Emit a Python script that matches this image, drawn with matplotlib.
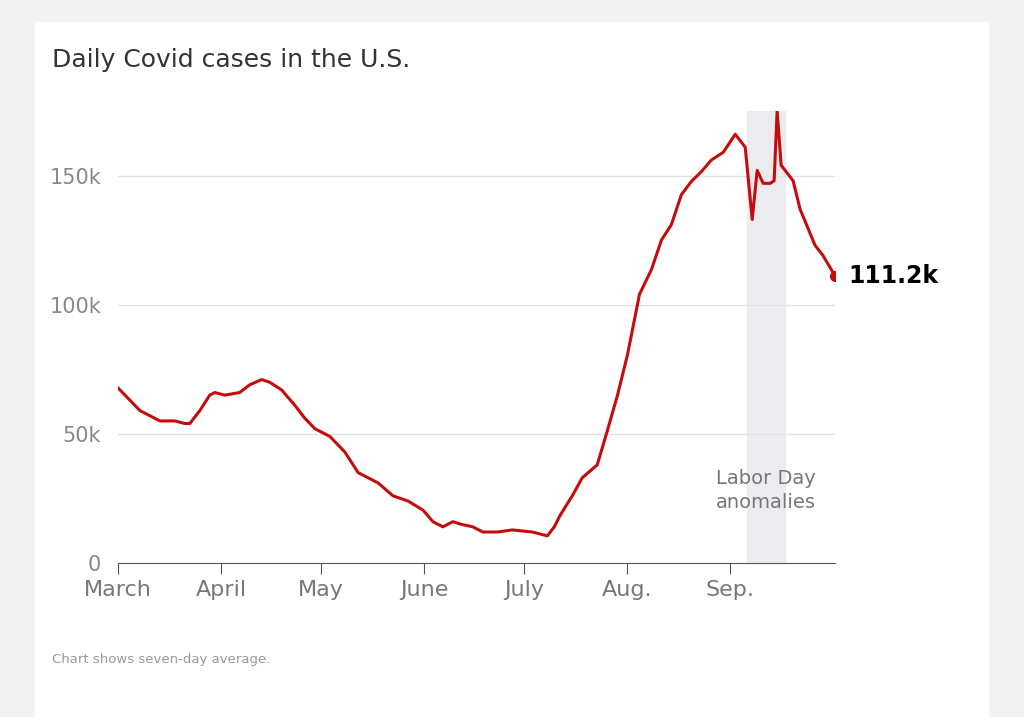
import matplotlib.pyplot as plt
import matplotlib.patches as mpatches
import numpy as np

# days since March 1, and seven-day average cases
days = [0, 3.6, 6.6, 9.6, 12.6, 17.1, 20.1, 21.6, 24.6, 27.6, 29.1, 32.1, 36.6, 39.6,
        43.2, 45.6, 49.2, 53.2, 56.2, 59.2, 63.7, 68.2, 72.2, 78.2, 82.7, 87.2, 91.7,
        94.7, 97.7, 100.7, 103.1, 106.7, 109.7, 114.1, 118.6, 124.6, 129.1, 131.2, 133.0,
        136.6, 139.6, 144.1, 147.1, 150.2, 153.2, 156.8, 160.4, 163.4, 166.4, 169.4,
        172.4, 175.4, 178.4, 182.0, 185.6, 188.6, 190.7, 192.2, 194.0, 196.1, 197.3,
        198.2, 199.4, 203.0, 205.1, 209.6, 212.0, 215.6]
cases = [67.8, 63, 59, 57, 55, 55, 54, 54, 59, 65, 66, 65, 66, 69, 71, 70, 67, 61, 56,
         52, 49, 43, 35, 31, 26, 24, 20.5, 16, 14, 16, 15, 14, 12, 12, 12.8, 12, 10.5,
         14, 18.6, 26, 33, 38, 51, 65, 80.6, 104, 113.6, 125, 131, 142.6, 147.7, 151.5,
         156, 159, 166, 161, 133, 152, 147, 147, 148, 175, 154, 148, 137, 123, 119, 111.2]
cases = [c * 1000 for c in cases]

month_days = [0, 31, 61, 92, 122, 153, 184]
month_labels = ['March', 'April', 'May', 'June', 'July', 'Aug.', 'Sep.']
labor_day = (189, 200.5)

fig = plt.figure(figsize=(10.24, 7.17), dpi=100)
fig.patch.set_facecolor('#f3f3f3')
card = mpatches.Rectangle((35 / 1024, 0), (988 - 35) / 1024, 1 - 22 / 717,
                          transform=fig.transFigure, color='white', zorder=-10)
fig.patches.append(card)

ax = fig.add_axes([118 / 1024, 1 - 563 / 717, 717 / 1024, 452 / 717])
ax.set_zorder(5)
ax.set_facecolor('none')
ax.axvspan(*labor_day, color='#ececf0', zorder=0)
for v in [50000, 100000, 150000]:
    ax.axhline(v, color='#e2e2e2', lw=1, zorder=1)
ax.plot(days, cases, color='#c40c0c', lw=2.2, zorder=3)
ax.plot(days[-1], cases[-1], 'o', color='#c40c0c', ms=7, zorder=4)
ax.text(days[-1] + 4, cases[-1], '111.2k', fontsize=17, fontweight='bold',
        va='center', ha='left', clip_on=False)
ax.text(sum(labor_day) / 2, 28000, 'Labor Day\nanomalies', fontsize=14, color='#777777',
        ha='center', va='center', linespacing=1.3)

ax.set_xlim(0, 215.6)
ax.set_ylim(0, 175000)
for s in ['top', 'right', 'left']:
    ax.spines[s].set_visible(False)
ax.spines['bottom'].set_color('#555555')
ax.set_xticks(month_days)
ax.set_xticklabels(month_labels, fontsize=16, color='#777777')
ax.set_yticks([0, 50000, 100000, 150000])
ax.set_yticklabels(['0', '50k', '100k', '150k'], fontsize=15, color='#888888')
ax.tick_params(axis='x', direction='out', length=8, color='#555555', pad=4)
ax.tick_params(axis='y', length=0, pad=12)

fig.text(52 / 1024, 1 - 60 / 717, 'Daily Covid cases in the U.S.', fontsize=18,
         color='#333333', va='center')
fig.text(52 / 1024, 1 - 660 / 717, 'Chart shows seven-day average.', fontsize=9.5,
         color='#999999', va='center')

fig.savefig('out.png', dpi=100, facecolor=fig.get_facecolor())
